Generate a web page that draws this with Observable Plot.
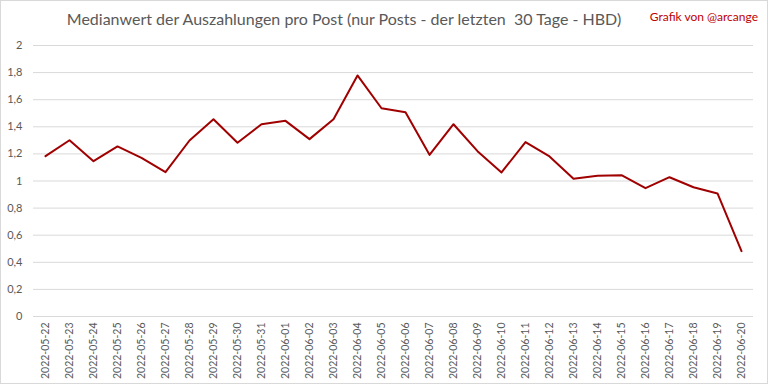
<!DOCTYPE html>
<html>
<head>
<meta charset="utf-8">
<script src="https://cdn.jsdelivr.net/npm/d3@7"></script>
<script src="https://cdn.jsdelivr.net/npm/@observablehq/plot@0.6"></script>
<style>
  html, body { margin: 0; padding: 0; background: #fff; }
  #wrap { position: relative; width: 768px; height: 384px; overflow: hidden; font-family: Lato, "Liberation Sans", sans-serif; }
  #border { position: absolute; left: 0; top: 0; width: 766px; height: 382px; border: 1px solid #d9d9d9; pointer-events: none; }
  #title { position: absolute; left: 0; width: 688px; top: 9px; text-align: center; font-size: 16px; color: #595959; white-space: nowrap; }
  #credit { position: absolute; right: 10px; top: 9px; font-size: 12px; color: #c00000; white-space: nowrap; }
  #chart { position: absolute; left: 0; top: 0; }
</style>
</head>
<body>
<div id="wrap">
  <div id="chart"></div>
  <div id="title">Medianwert der Auszahlungen pro Post (nur Posts - der letzten&nbsp; 30 Tage - HBD)</div>
  <div id="credit">Grafik von @arcange</div>
  <div id="border"></div>
</div>
<script>
const dates = [
  "2022-05-22","2022-05-23","2022-05-24","2022-05-25","2022-05-26","2022-05-27","2022-05-28","2022-05-29","2022-05-30","2022-05-31",
  "2022-06-01","2022-06-02","2022-06-03","2022-06-04","2022-06-05","2022-06-06","2022-06-07","2022-06-08","2022-06-09","2022-06-10",
  "2022-06-11","2022-06-12","2022-06-13","2022-06-14","2022-06-15","2022-06-16","2022-06-17","2022-06-18","2022-06-19","2022-06-20"
];
const values = [
  1.183, 1.301, 1.146, 1.255, 1.171, 1.065, 1.299, 1.456, 1.282, 1.419,
  1.444, 1.309, 1.456, 1.779, 1.537, 1.508, 1.193, 1.419, 1.220, 1.063,
  1.287, 1.181, 1.016, 1.038, 1.043, 0.947, 1.028, 0.954, 0.908, 0.482
];
const yTicks = [0, 0.2, 0.4, 0.6, 0.8, 1, 1.2, 1.4, 1.6, 1.8, 2];
const yTickLabels = ["0", "0,2", "0,4", "0,6", "0,8", "1", "1,2", "1,4", "1,6", "1,8", "2"];

const data = dates.map((d, i) => ({date: d, value: values[i]}));

const chart = Plot.plot({
  width: 768,
  height: 384,
  marginLeft: 33,
  marginRight: 15,
  marginTop: 45,
  marginBottom: 68,
  style: {fontFamily: "Lato, 'Liberation Sans', sans-serif", background: "transparent", color: "#595959"},
  x: {type: "point", domain: dates, padding: 0.5},
  y: {domain: [0, 2]},
  marks: [
    Plot.ruleY(yTicks, {stroke: "#d9d9d9", strokeWidth: 1}),
    Plot.axisY({ticks: yTicks, tickFormat: (d) => yTickLabels[yTicks.indexOf(d)], tickSize: 0, tickPadding: 11, fontSize: 11, fill: "#595959", label: null}),
    Plot.axisX({tickRotate: -90, tickSize: 0, tickPadding: 6, fontSize: 10.5, fill: "#595959", label: null}),
    Plot.lineY(data, {x: "date", y: "value", stroke: "#a00000", strokeWidth: 2})
  ]
});
document.getElementById("chart").appendChild(chart);
</script>
</body>
</html>
